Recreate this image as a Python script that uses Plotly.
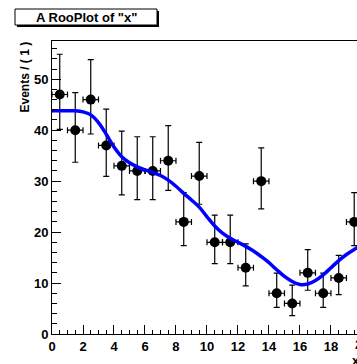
import plotly.graph_objects as go

# Binned event counts of x (20 unit-width bins on [0, 20])
bin_centres = [0.5, 1.5, 2.5, 3.5, 4.5, 5.5, 6.5, 7.5, 8.5, 9.5,
               10.5, 11.5, 12.5, 13.5, 14.5, 15.5, 16.5, 17.5, 18.5, 19.5]
counts = [47, 40, 46, 37, 33, 32, 32, 34, 22, 31,
          18, 18, 13, 30, 8, 6, 12, 8, 11, 22]
bin_half_width = 0.5

# Projected pdf curve, sampled along x
curve_x = [0, 0.5, 1, 1.5, 2, 2.5, 3, 3.5, 4, 4.5, 5, 5.5, 6, 6.5, 7, 7.5,
           8, 8.5, 9, 9.5, 10, 10.5, 11, 11.5, 12, 12.5, 13, 13.5, 14, 14.5,
           15, 15.5, 16, 16.5, 17, 17.5, 18, 18.5, 19, 19.5, 20]
curve_y = [43.8, 43.8, 43.8, 43.8, 43.6, 43.0, 41.5, 39.2, 36.7, 34.8,
           33.6, 32.8, 32.2, 31.7, 31.1, 30.2, 29.0, 27.6, 26.3, 24.9,
           23.0, 21.2, 19.8, 18.8, 18.0, 17.2, 16.3, 15.2, 14.0, 12.6,
           11.3, 10.3, 9.7, 9.8, 10.5, 11.6, 13.0, 14.4, 15.6, 16.6, 17.5]

x_ticks = [0, 2, 4, 6, 8, 10, 12, 14, 16, 18]
x_last_tick = 20
y_ticks = [0, 10, 20, 30, 40, 50]

x_view = [0, 19.68]
y_view = [0, 57.5]


def poisson_interval(n):
    """68% central Poisson interval (Wilson-Hilferty approximation)."""
    if n == 0:
        return 0.0, 1.15
    lo = n * (1 - 1 / (9 * n) - 1 / (3 * n ** 0.5)) ** 3
    m = n + 1
    hi = m * (1 - 1 / (9 * m) + 1 / (3 * m ** 0.5)) ** 3
    return n - lo, hi - n


err_lo = [poisson_interval(n)[0] for n in counts]
err_hi = [poisson_interval(n)[1] for n in counts]

FONT = "Liberation Sans"
bold = dict(family=FONT, weight="bold", color="black")

fig = go.Figure()

fig.add_trace(go.Scatter(
    x=bin_centres, y=counts, mode="markers",
    marker=dict(color="black", size=10),
    error_x=dict(type="constant", value=bin_half_width, color="black",
                 thickness=1.2, width=3),
    error_y=dict(type="data", symmetric=False, array=err_hi,
                 arrayminus=err_lo, color="black", thickness=1.2, width=3),
    showlegend=False,
))

fig.add_trace(go.Scatter(
    x=curve_x, y=curve_y, mode="lines",
    line=dict(color="#0000ff", width=3.5, shape="spline"),
    showlegend=False,
))

axis_common = dict(
    showgrid=False, zeroline=False, showline=True, linecolor="black",
    linewidth=1, ticks="inside", ticklen=9, tickwidth=1, tickcolor="black",
    tickfont=dict(bold, size=13),
)

fig.update_xaxes(range=x_view, tickmode="array", tickvals=x_ticks,
                 mirror=True,
                 minor=dict(tick0=0, dtick=0.5, ticks="inside", ticklen=4.5,
                            tickcolor="black", tickwidth=1),
                 **axis_common)
fig.update_yaxes(range=y_view, tickmode="array", tickvals=y_ticks,
                 mirror=False,
                 minor=dict(tick0=0, dtick=2, ticks="inside", ticklen=4.5,
                            tickcolor="black", tickwidth=1),
                 **axis_common)

x_end = x_last_tick / x_view[1]

annotations = [
    # title pave text
    dict(text='A RooPlot of "x"', xref="paper", yref="paper", x=0, y=1,
         xanchor="center", yanchor="middle", xshift=34, yshift=24,
         showarrow=False, font=dict(bold, size=13)),
    # y-axis title, aligned to the top of the axis
    dict(text="Events / ( 1 )", xref="paper", yref="paper", x=0, y=1,
         xanchor="center", yanchor="top", xshift=-28, yshift=1,
         textangle=-90, showarrow=False, font=dict(bold, size=12)),
    # last x tick label at the axis end
    dict(text=str(x_last_tick), xref="paper", yref="paper", x=x_end, y=0,
         xanchor="center", yanchor="top", yshift=-1,
         showarrow=False, font=dict(bold, size=13)),
    # x-axis title, right aligned at the axis end
    dict(text="x", xref="paper", yref="paper", x=x_end, y=0,
         xanchor="right", yanchor="top", yshift=-17,
         showarrow=False, font=dict(bold, size=13)),
]

shapes = [
    # shadow of the title pave
    dict(type="rect", xref="paper", yref="paper", xsizemode="pixel",
         ysizemode="pixel", xanchor=0, yanchor=1,
         x0=-35, x1=107, y0=14, y1=30,
         fillcolor="black", line=dict(width=0)),
    # title pave
    dict(type="rect", xref="paper", yref="paper", xsizemode="pixel",
         ysizemode="pixel", xanchor=0, yanchor=1,
         x0=-37, x1=105, y0=16, y1=32,
         fillcolor="white", line=dict(color="black", width=1)),
]

fig.update_layout(
    width=357, height=364,
    margin=dict(l=52, r=0, t=41, b=30),
    paper_bgcolor="white", plot_bgcolor="white",
    annotations=annotations, shapes=shapes,
    font=dict(family=FONT),
)

fig.write_html("out.html")
